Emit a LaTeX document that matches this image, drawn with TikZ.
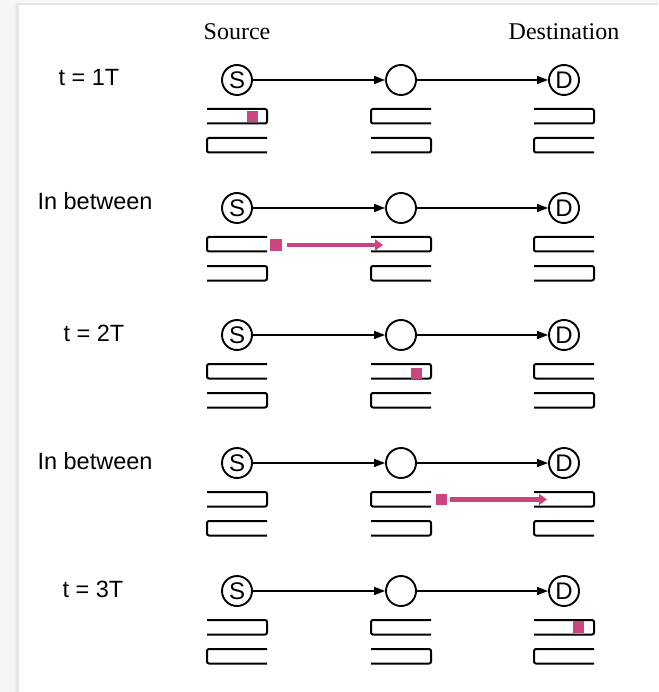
\documentclass[tikz,border=0pt]{standalone}
\usepackage{fontspec}
\setmainfont{Liberation Serif}
\newfontfamily\labelfont{Liberation Sans}
\usetikzlibrary{arrows.meta}
\definecolor{packet}{HTML}{C8457F}
\definecolor{pagegray}{HTML}{F6F6F6}

\tikzset{
  station/.style={circle,draw,line width=1.9pt,minimum size=30pt,inner sep=0pt,
    font=\labelfont\fontsize{24}{24}\selectfont},
  link/.style={line width=1.5pt,-{Triangle[length=11pt,width=8pt]}},
  buf/.style={line width=2pt,rounded corners=2pt},
  pkt/.style={fill=packet,minimum size=11.5pt,inner sep=0pt},
  move/.style={draw=packet,line width=4.5pt,-{Triangle[length=8pt,width=11pt]}},
  rowlabel/.style={font=\labelfont\fontsize{23.5}{23.5}\selectfont,anchor=base},
  head/.style={font=\fontsize{24}{24}\selectfont,anchor=base},
  % buffer closed on its right end
  slotR/.pic={\draw[buf] (-30,0) -- (30,0) -- (30,14.5) -- (-30,14.5);},
  % buffer closed on its left end
  slotL/.pic={\draw[buf] (30,0) -- (-30,0) -- (-30,14.5) -- (30,14.5);},
}

% two buffers below a station: #1 x, #2 row y, #3/#4 orientation (L or R)
\newcommand\queuepair[4]{%
  \pic at (#1,#2+29) {slot#3};
  \pic at (#1,#2+58) {slot#4};
}

\begin{document}
\begin{tikzpicture}[x=1pt,y=-1pt]
  % page and panel
  \fill[pagegray] (0,0) rectangle (658,692);
  \fill[black!10] (16,3) rectangle (658,692);
  \fill[black!6] (14,2) rectangle (16,692);
  \fill[white] (19,5) rectangle (658,692);
  \useasboundingbox (0,0) rectangle (658,692);

  % column headings
  \node[head] (src) at (237,40) {Source};
  \node[head] (dst) at (564,40) {Destination};

  % row labels
  \node[rowlabel] (l1) at (89,86) {t = 1T};
  \node[rowlabel] (l2) at (95,210) {In between};
  \node[rowlabel] (l3) at (94,341) {t = 2T};
  \node[rowlabel] (l4) at (95,469) {In between};
  \node[rowlabel] (l5) at (93,597) {t = 3T};

  % stations and links, one row per time step
  \foreach \r/\y in {1/80,2/208,3/335,4/463,5/591}{
    \node[station] (s\r) at (237,\y) {S};
    \node[station] (m\r) at (401,\y) {};
    \node[station] (d\r) at (564,\y) {D};
    \draw[link] (s\r) -- (m\r);
    \draw[link] (m\r) -- (d\r);
  }

  % buffers
  \queuepair{237}{80}{R}{L}  \queuepair{401}{80}{L}{R}  \queuepair{564}{80}{R}{L}
  \queuepair{237}{208}{L}{R} \queuepair{401}{208}{R}{L} \queuepair{564}{208}{L}{R}
  \queuepair{237}{335}{L}{R} \queuepair{401}{335}{R}{L} \queuepair{564}{335}{L}{R}
  \queuepair{237}{463}{R}{L} \queuepair{401}{463}{L}{R} \queuepair{564}{463}{R}{L}
  \queuepair{237}{591}{R}{L} \queuepair{401}{591}{L}{R} \queuepair{564}{591}{R}{L}

  % packets
  \node[pkt] (p1) at (252.5,116.5) {};
  \node[pkt] (p2) at (276,245) {};
  \coordinate (a2) at (383,245);
  \draw[move] ([xshift=5pt]p2.east) -- (a2);
  \node[pkt] (p3) at (416.5,373.5) {};
  \node[pkt] (p4) at (441.5,499.5) {};
  \coordinate (a4) at (547,499.5);
  \draw[move] ([xshift=3pt]p4.east) -- (a4);
  \node[pkt] (p5) at (578.5,627) {};
\end{tikzpicture}
\end{document}
